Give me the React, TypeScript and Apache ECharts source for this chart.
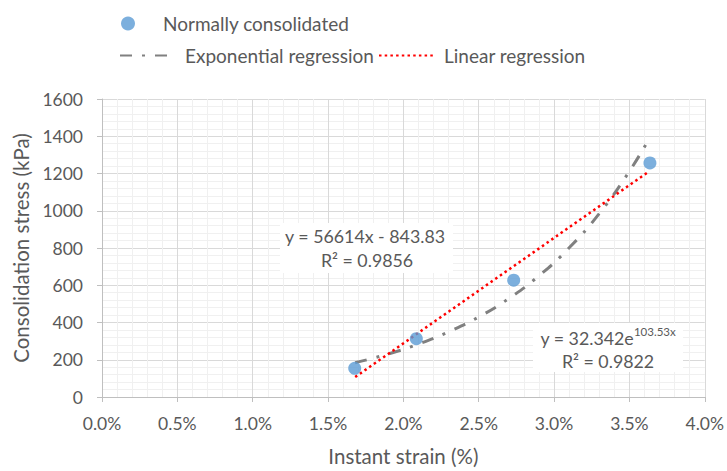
import React, { useEffect, useRef } from 'react';
import * as echarts from 'echarts';

// Measured points (strain as fraction, stress in kPa)
const strain = [0.01677, 0.02086, 0.02732, 0.03636];
const stress = [154, 313, 627, 1257];

// Linear trend line endpoints
const linStrain = [0.0168, 0.0363];
const linStress = [107, 1211];

// Exponential trend line points
const expStrain = [0.0168, 0.019, 0.021, 0.023, 0.025, 0.027, 0.029, 0.031, 0.033, 0.035, 0.0363];
const expStress = [184, 231, 284, 350, 430, 529, 651, 801, 985, 1212, 1386];

const seriesNames = ['Normally consolidated', 'Exponential regression', 'Linear regression'];
const linEq = 'y = 56614x - 843.83';
const linR2 = 'R² = 0.9856';
const expEqBase = 'y = 32.342e';
const expEqSup = '103.53x';
const expR2 = 'R² = 0.9822';

const FONT = 'Lato, "Open Sans", sans-serif';
const TXT = '#595959';

export default function App() {
  const ref = useRef<HTMLDivElement>(null);
  useEffect(() => {
    if (!ref.current) return;
    const chart = echarts.init(ref.current, null, { renderer: 'svg' });
    const pairs = (xs: number[], ys: number[]) => xs.map((x, i) => [x, ys[i]]);
    const legendText = { color: TXT, fontSize: 19, fontFamily: FONT };
    chart.setOption({
      animation: false,
      backgroundColor: '#ffffff',
      textStyle: { fontFamily: FONT },
      grid: { left: 102, right: 20, top: 99, bottom: 73, containLabel: false },
      legend: [
        {
          data: [seriesNames[0]], left: 116, top: 9, itemWidth: 60, itemHeight: 14,
          textStyle: legendText,
        },
        {
          data: [seriesNames[1]], left: 114, top: 41, itemWidth: 52, itemHeight: 14,
          itemStyle: { opacity: 0 },
          textStyle: { ...legendText, padding: [0, 0, 0, 8] },
        },
        {
          data: [seriesNames[2]], left: 373, top: 41, itemWidth: 56, itemHeight: 14,
          itemStyle: { opacity: 0 },
          textStyle: { ...legendText, padding: [0, 0, 0, 4] },
        },
      ],
      xAxis: {
        type: 'value', min: 0, max: 0.04, interval: 0.005,
        name: 'Instant strain (%)', nameLocation: 'middle', nameGap: 48,
        nameTextStyle: { color: TXT, fontSize: 20.5, fontFamily: FONT },
        axisLine: { show: true, lineStyle: { color: '#bfbfbf', width: 1 } },
        axisTick: { show: true, length: 5, lineStyle: { color: '#bfbfbf' } },
        axisLabel: { color: TXT, fontSize: 17.5, margin: 17, formatter: (v: number) => (v * 100).toFixed(1) + '%' },
        splitLine: { show: true, lineStyle: { color: '#d9d9d9', width: 1 } },
        minorTick: { show: false, splitNumber: 5 },
        minorSplitLine: { show: true, lineStyle: { color: '#f0f0f0', width: 1 } },
      },
      yAxis: {
        type: 'value', min: 0, max: 1600, interval: 200,
        name: 'Consolidation stress (kPa)', nameLocation: 'middle', nameGap: 68, nameRotate: 90,
        nameTextStyle: { color: TXT, fontSize: 20.5, fontFamily: FONT },
        axisLine: { show: true, lineStyle: { color: '#bfbfbf', width: 1 } },
        axisTick: { show: true, length: 5, lineStyle: { color: '#bfbfbf' } },
        axisLabel: { color: TXT, fontSize: 17.5, margin: 19, formatter: (v: number) => String(v) },
        splitLine: { show: true, lineStyle: { color: '#d9d9d9', width: 1 } },
        minorTick: { show: false, splitNumber: 5 },
        minorSplitLine: { show: true, lineStyle: { color: '#f0f0f0', width: 1 } },
      },
      series: [
        {
          name: seriesNames[1], type: 'line', data: pairs(expStrain, expStress), showSymbol: false, symbol: 'none',
          smooth: true, z: 3,
          lineStyle: { color: '#808080', width: 3, type: [12, 10, 3, 10] },
          itemStyle: { color: '#808080' },
        },
        {
          name: seriesNames[2], type: 'line', data: pairs(linStrain, linStress), showSymbol: false, symbol: 'none', z: 4,
          lineStyle: { color: '#ff0000', width: 2.5, type: [2.5, 3.2] },
          itemStyle: { color: '#ff0000' },
        },
        {
          name: seriesNames[0], type: 'scatter', data: pairs(strain, stress), symbol: 'circle', symbolSize: 13, z: 5,
          itemStyle: { color: '#5b9bd5' },
        },
      ],
      graphic: [
        { type: 'rect', shape: { x: 280, y: 223, width: 173, height: 50 }, style: { fill: '#ffffff' }, z: 10 },
        { type: 'text', x: 365, y: 236, z: 11, style: { text: linEq, fill: TXT, font: '17.8px ' + FONT, textAlign: 'center', textVerticalAlign: 'middle' } },
        { type: 'text', x: 367, y: 260, z: 11, style: { text: linR2, fill: TXT, font: '17.8px ' + FONT, textAlign: 'center', textVerticalAlign: 'middle' } },
        { type: 'rect', shape: { x: 533, y: 323, width: 150, height: 49 }, style: { fill: '#ffffff' }, z: 10 },
        {
          type: 'text', x: 608, y: 336, z: 11,
          style: {
            text: '{b|' + expEqBase + '}{s|' + expEqSup + '}',
            textAlign: 'center', textVerticalAlign: 'middle',
            rich: {
              b: { fill: TXT, fontSize: 17.8, fontFamily: FONT, lineHeight: 22, verticalAlign: 'bottom' },
              s: { fill: TXT, fontSize: 11.5, fontFamily: FONT, lineHeight: 12, verticalAlign: 'top' },
            },
          },
        },
        { type: 'text', x: 608, y: 361, z: 11, style: { text: expR2, fill: TXT, font: '17.8px ' + FONT, textAlign: 'center', textVerticalAlign: 'middle' } },
      ],
    });
    return () => chart.dispose();
  }, []);
  return <div ref={ref} style={{ width: 727, height: 471, position: 'absolute', left: 0, top: 0 }} />;
}
